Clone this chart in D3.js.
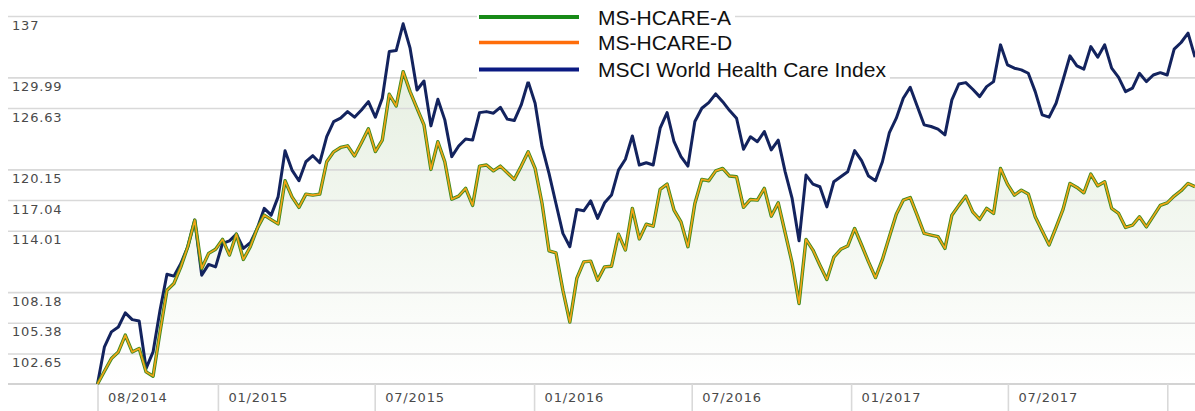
<!DOCTYPE html>
<html>
<head>
<meta charset="utf-8">
<script src="https://cdn.jsdelivr.net/npm/d3@7"></script>
<style>
  body { margin: 0; background: #fff; }
  svg { display: block; }
  .axis text { font-family: "DejaVu Sans", Verdana, sans-serif; font-size: 13px; fill: #4a4a4a; letter-spacing: 0.8px; }
  .legend text { font-family: "Liberation Sans", Arial, sans-serif; font-size: 21px; fill: #111; }
</style>
</head>
<body>
<div id="chart"></div>
<script>
// series names (legend order)
var seriesNames = ["MS-HCARE-A", "MS-HCARE-D", "MSCI World Health Care Index"];

// first and last observation date, points are evenly spaced in between
var startDate = new Date(2014, 7, 15);
var endDate = new Date(2018, 1, 2);

// rebased values (start = 100)
var hcareA = [
  100.0,101.1,102.2,102.78,104.27,102.78,103.09,101.04,100.67,104.56,
  108.35,108.98,110.54,112.46,115.05,110.39,111.82,112.21,113.17,111.66,
  113.68,111.24,112.46,114.23,115.54,115.1,114.68,118.99,117.36,116.31,
  117.64,117.54,117.64,120.94,121.97,122.43,122.6,121.54,122.93,124.39,
  122.0,123.2,128.13,126.85,130.63,128.42,126.6,124.82,120.15,123.03,
  120.94,117.13,117.44,118.22,116.51,120.49,120.6,120.0,120.49,119.8,
  119.13,120.49,121.97,120.25,116.7,112.07,111.88,108.35,105.44,109.45,
  111.01,111.08,109.29,110.54,110.6,113.68,112.14,116.21,113.21,114.65,
  114.45,118.12,118.65,116.04,114.88,112.46,116.7,119.13,118.99,120.0,
  120.25,119.47,119.4,116.31,117.1,117.03,118.22,115.44,116.76,113.8,
  110.92,107.13,113.17,112.14,110.7,109.35,111.46,112.21,112.53,114.23,
  112.63,111.01,109.53,111.24,113.43,115.64,117.03,117.3,115.54,113.75,
  113.59,113.43,112.3,115.54,116.51,117.44,115.86,115.12,116.21,115.71,
  120.25,118.65,117.54,118.04,117.64,115.38,113.99,112.63,114.33,116.11,
  118.72,118.31,117.77,119.67,118.48,118.89,116.21,115.71,114.33,114.55,
  115.38,114.39,115.44,116.51,116.76,117.44,117.98,118.72,118.38
];

var hcareD = [
  100.0,101.1,102.2,102.78,104.27,102.78,103.09,101.04,100.67,104.56,
  108.35,108.98,110.54,112.46,115.05,110.39,111.82,112.21,113.17,111.66,
  113.68,111.24,112.46,114.23,115.54,115.1,114.68,118.99,117.36,116.31,
  117.64,117.54,117.64,120.94,121.97,122.43,122.6,121.54,122.93,124.39,
  122.0,123.2,128.13,126.85,130.63,128.42,126.6,124.82,120.15,123.03,
  120.94,117.13,117.44,118.22,116.51,120.49,120.6,120.0,120.49,119.8,
  119.13,120.49,121.97,120.25,116.7,112.07,111.88,108.35,105.44,109.45,
  111.01,111.08,109.29,110.54,110.6,113.68,112.14,116.21,113.21,114.65,
  114.45,118.12,118.65,116.04,114.88,112.46,116.7,119.13,118.99,120.0,
  120.25,119.47,119.4,116.31,117.1,117.03,118.22,115.44,116.76,113.8,
  110.92,107.13,113.17,112.14,110.7,109.35,111.46,112.21,112.53,114.23,
  112.63,111.01,109.53,111.24,113.43,115.64,117.03,117.3,115.54,113.75,
  113.59,113.43,112.3,115.54,116.51,117.44,115.86,115.12,116.21,115.71,
  120.25,118.65,117.54,118.04,117.64,115.38,113.99,112.63,114.33,116.11,
  118.72,118.31,117.77,119.67,118.48,118.89,116.21,115.71,114.33,114.55,
  115.38,114.39,115.44,116.51,116.76,117.44,117.98,118.72,118.38
];

var msciWorld = [
  100.0,103.23,104.56,105.0,106.27,105.66,105.54,101.34,102.78,106.51,
  109.85,109.67,110.86,112.46,115.05,109.76,110.77,110.54,112.78,113.03,
  113.68,112.30,112.84,114.23,116.21,115.54,117.36,122.09,120.08,118.99,
  120.94,121.57,120.84,123.56,125.17,125.53,126.24,125.64,126.42,127.32,
  125.64,127.69,132.89,133.01,136.09,133.28,128.60,129.59,124.71,127.58,
  125.35,121.47,122.58,123.32,123.2,126.13,126.24,126.07,126.71,125.43,
  125.28,126.96,129.52,127.15,122.51,119.74,116.70,113.75,112.46,116.11,
  115.97,116.96,115.22,116.76,117.54,120.08,121.2,123.64,120.6,120.84,
  120.6,124.46,126.13,123.03,121.47,120.49,125.17,126.6,127.21,128.17,
  127.32,126.35,125.53,122.24,123.56,123.03,124.1,122.17,123.2,119.9,
  117.2,113.03,119.57,118.65,118.38,116.36,118.89,119.4,119.9,122.1,
  121.05,119.47,118.99,120.94,123.99,125.53,127.69,128.9,126.85,124.82,
  124.64,124.36,123.75,127.51,129.26,129.41,128.68,127.87,128.97,129.52,
  133.66,131.39,131.02,130.83,130.45,128.42,125.89,125.64,127.15,129.70,
  132.41,131.28,130.91,133.46,132.26,133.66,131.02,130.0,128.42,128.8,
  130.45,129.52,130.26,130.52,130.26,133.17,133.93,135.01,132.26
];

// y tick labels
var yTicks = [102.65, 105.38, 108.18, 114.01, 117.04, 120.15, 126.63, 129.99, 137];

// x ticks (first one is the start of the series)
var xTicks = [startDate, new Date(2015, 0, 1), new Date(2015, 6, 1), new Date(2016, 0, 1),
  new Date(2016, 6, 1), new Date(2017, 0, 1), new Date(2017, 6, 1), new Date(2018, 0, 1)];

var outerWidth = 1195;
var outerHeight = 411;
var margin = { top: 16, right: 0, bottom: 27, left: 97.5 };

var svg = d3.select("#chart")
  .append("svg")
  .attr("width", outerWidth)
  .attr("height", outerHeight);

var xScale = d3.scaleTime()
  .domain([startDate, endDate])
  .range([margin.left, outerWidth - margin.right]);

var yScale = d3.scaleLog()
  .domain([100, 137])
  .range([outerHeight - margin.bottom, margin.top]);

// date of each point
var indexToTime = d3.scaleLinear()
  .domain([0, msciWorld.length - 1])
  .range([startDate.getTime(), endDate.getTime()]);

function toPoints(values) {
  return values.map(function(v, i) {
    return { date: new Date(indexToTime(i)), value: v };
  });
}

//gradient for the area
var defs = svg.append("defs");
var grad = defs.append("linearGradient")
  .attr("id", "areaFill")
  .attr("gradientUnits", "userSpaceOnUse")
  .attr("x1", 0).attr("x2", 0)
  .attr("y1", yScale(132)).attr("y2", yScale(100));
grad.append("stop").attr("offset", 0).attr("stop-color", "#e6efe1");
grad.append("stop").attr("offset", 1).attr("stop-color", "#ffffff");

var area = d3.area()
  .x(function(d) { return xScale(d.date); })
  .y0(yScale(100))
  .y1(function(d) { return yScale(d.value); });

svg.append("path")
  .datum(toPoints(hcareA))
  .attr("d", area)
  .attr("fill", "url(#areaFill)");

// y axis: gridlines + labels
var yAxis = d3.axisRight(yScale)
  .tickValues(yTicks)
  .tickSize(outerWidth - 8)
  .tickFormat(function(d) { return String(d); });

var gy = svg.append("g")
  .attr("class", "y axis")
  .attr("transform", "translate(8,0)")
  .call(yAxis);
gy.select(".domain").remove();
gy.selectAll("line").attr("stroke", "#d9d9d9").attr("stroke-width", 1.6);
gy.selectAll("text").attr("x", 4).attr("y", 9).attr("text-anchor", "start");

// baseline
svg.append("line")
  .attr("x1", 8).attr("x2", outerWidth)
  .attr("y1", yScale(100)).attr("y2", yScale(100))
  .attr("stroke", "#d3d3d3").attr("stroke-width", 2);

// x axis
var fmt = d3.timeFormat("%m/%Y");
var xAxis = d3.axisBottom(xScale)
  .tickValues(xTicks)
  .tickSize(outerHeight - yScale(100))
  .tickFormat(function(d, i) { return i == xTicks.length - 1 ? "" : fmt(d); });

var gx = svg.append("g")
  .attr("class", "x axis")
  .attr("transform", "translate(0," + yScale(100) + ")")
  .call(xAxis);
gx.select(".domain").remove();
gx.selectAll("line").attr("stroke", "#d9d9d9").attr("stroke-width", 1.6);
gx.selectAll("text").attr("x", 10).attr("y", 9).attr("text-anchor", "start");

var line = d3.line()
  .x(function(d) { return xScale(d.date); })
  .y(function(d) { return yScale(d.value); });

svg.append("path")
  .datum(toPoints(msciWorld))
  .attr("d", line)
  .attr("fill", "none")
  .attr("stroke", "#13235e")
  .attr("stroke-width", 3)
  .attr("stroke-linejoin", "round");

svg.append("path")
  .datum(toPoints(hcareA))
  .attr("d", line)
  .attr("fill", "none")
  .attr("stroke", "#3f8a1f")
  .attr("stroke-width", 3.4)
  .attr("stroke-linejoin", "round");

svg.append("path")
  .datum(toPoints(hcareD))
  .attr("d", line)
  .attr("fill", "none")
  .attr("stroke", "#f4a416")
  .attr("stroke-width", 1.6)
  .attr("stroke-linejoin", "round");

// legend
var legendColors = ["#178a17", "#ff6d0a", "#0b1a82"];
var legendWidths = [4, 3.5, 4];
var legendRows = [17, 42.5, 69.5];

var legend = svg.append("g").attr("class", "legend");
var items = legend.selectAll("g")
  .data(seriesNames)
  .enter()
  .append("g")
  .attr("transform", function(d, i) { return "translate(479," + legendRows[i] + ")"; });

items.append("rect")
  .attr("x", -2)
  .attr("y", -12)
  .attr("height", 24)
  .attr("fill", "#fff");

items.append("line")
  .attr("x1", 0).attr("x2", 100)
  .attr("stroke", function(d, i) { return legendColors[i]; })
  .attr("stroke-width", function(d, i) { return legendWidths[i]; });

items.append("text")
  .attr("x", 119)
  .attr("y", 7.5)
  .text(function(d) { return d; });

items.each(function() {
  var g = d3.select(this);
  var w = g.select("text").node().getComputedTextLength();
  g.select("rect").attr("width", 119 + w + 6);
});
</script>
</body>
</html>
